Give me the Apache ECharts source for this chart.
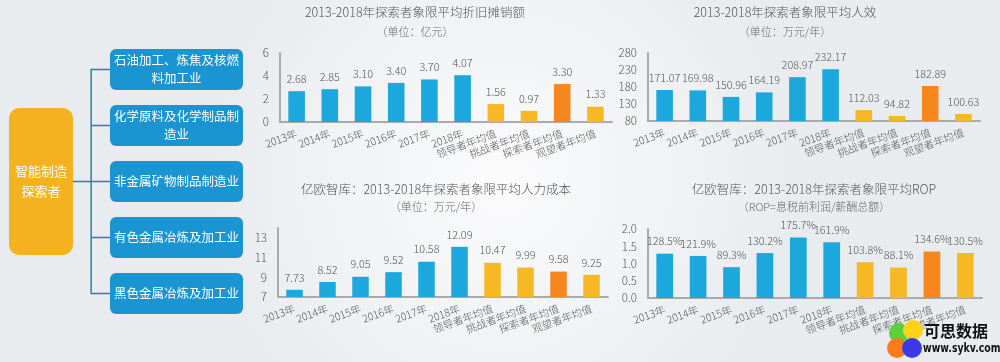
<!DOCTYPE html>
<html>
<head>
<meta charset="utf-8">
<script src="https://cdn.jsdelivr.net/npm/echarts@6/dist/echarts.min.js"></script>
<style>
html,body{margin:0;padding:0;}
#main{width:1000px;height:362px;}
</style>
</head>
<body>
<div id="main"></div>
<script>
// ---- data ----
const categories = ['2013年','2014年','2015年','2016年','2017年','2018年','领导者年均值','挑战者年均值','探索者年均值','观望者年均值'];
const deprValues = [2.68, 2.85, 3.10, 3.40, 3.70, 4.07, 1.56, 0.97, 3.30, 1.33];
const effValues = [171.07, 169.98, 150.96, 164.19, 208.97, 232.17, 112.03, 94.82, 182.89, 100.63];
const costValues = [7.73, 8.52, 9.05, 9.52, 10.58, 12.09, 10.47, 9.99, 9.58, 9.25];
const ropValues = [1.285, 1.219, 0.893, 1.302, 1.757, 1.619, 1.038, 0.881, 1.346, 1.305];
const rootName = '智能制造\n探索者';
const industryNames = ['石油加工、炼焦及核燃\n料加工业', '化学原料及化学制品制\n造业', '非金属矿物制品制造业', '有色金属冶炼及加工业', '黑色金属冶炼及加工业'];
const chartTitles = ['2013-2018年探索者象限平均折旧摊销额', '2013-2018年探索者象限平均人效', '亿欧智库：2013-2018年探索者象限平均人力成本', '亿欧智库：2013-2018年探索者象限平均ROP'];
const chartSubtitles = ['（单位：亿元）', '（单位：万元/年）', '（单位：万元/年）', '（ROP=息税前利润/薪酬总额）'];

// ---- styles ----
const FONT = '"Noto Sans CJK SC", "Noto Sans", sans-serif';
const BLUE = '#1ca8dc', YELLOW = '#f7b825', ORANGE = '#f6871f';
function barColor(p) {
  if (p.dataIndex < 6) return BLUE;
  if (p.dataIndex === 8) return ORANGE;
  return YELLOW;
}
const axisLineStyle = { show: true, lineStyle: { color: '#aaaaaa', width: 2 } };

const grids = [
  { left: 280, right: 388, top: 53, bottom: 240 },
  { left: 648, right: 20, top: 53, bottom: 241 },
  { left: 278, right: 392, top: 228, bottom: 65 },
  { left: 648, right: 18, top: 229, bottom: 64 }
];
const yRanges = [
  { min: 0, max: 6, interval: 2 },
  { min: 80, max: 280, interval: 50 },
  { min: 7, max: 14, interval: 2 },
  { min: 0, max: 2, interval: 0.5 }
];
const titlePos = [
  { x: 410, y1: 1, y2: 21 },
  { x: 780, y1: 1, y2: 21 },
  { x: 431, y1: 178, y2: 196 },
  { x: 809, y1: 178, y2: 196 }
];
const seriesValues = [deprValues, effValues, costValues, ropValues];
const labelFormatters = [
  v => v.toFixed(2),
  v => v.toFixed(2),
  v => v.toFixed(2),
  v => (v * 100).toFixed(1) + '%'
];
const yLabelFormatters = [
  v => String(v),
  v => String(v),
  v => String(v),
  v => v.toFixed(1)
];

const titles = [];
titlePos.forEach((p, i) => {
  titles.push({ text: chartTitles[i], left: p.x, top: p.y1, textAlign: 'center',
    textStyle: { fontFamily: FONT, fontSize: 12.5, fontWeight: 300, color: '#555' } });
  titles.push({ text: chartSubtitles[i], left: p.x, top: p.y2, textAlign: 'center',
    textStyle: { fontFamily: FONT, fontSize: 11, fontWeight: 300, color: '#666' } });
});

const xAxes = grids.map((g, i) => ({
  type: 'category', gridIndex: i, data: categories,
  axisLine: axisLineStyle, axisTick: { show: false },
  axisLabel: { interval: 0, rotate: 20, margin: 11, color: '#555', fontSize: 10.5, fontWeight: 300, fontFamily: FONT }
}));
const yAxes = grids.map((g, i) => ({
  type: 'value', gridIndex: i, min: yRanges[i].min, max: yRanges[i].max, interval: yRanges[i].interval,
  axisLine: axisLineStyle, axisTick: { show: false }, splitLine: { show: false },
  axisLabel: { margin: 11, color: '#555', fontSize: 11.5, fontWeight: 300, fontFamily: FONT, showMaxLabel: i !== 2,
    formatter: yLabelFormatters[i] }
}));
const barSeries = seriesValues.map((vals, i) => ({
  type: 'bar', xAxisIndex: i, yAxisIndex: i, data: vals, barWidth: '50%',
  itemStyle: { color: barColor },
  label: { show: true, position: 'top', distance: 7, color: '#555', fontSize: 10.8, fontWeight: 300, fontFamily: FONT,
    formatter: p => labelFormatters[i](p.value) }
}));

const leafPath = 'path://M6,0 H127 A6,6 0 0 1 133,6 V35 A6,6 0 0 1 127,41 H6 A6,6 0 0 1 0,35 V6 A6,6 0 0 1 6,0 Z';
const rootPath = 'path://M10,0 H54 A10,10 0 0 1 64,10 V137 A10,10 0 0 1 54,147 H10 A10,10 0 0 1 0,137 V10 A10,10 0 0 1 10,0 Z';

const treeData = {
  name: rootName,
  symbol: rootPath,
  symbolSize: [64, 147],
  itemStyle: { color: '#f5b220' },
  label: { fontSize: 13, lineHeight: 20 },
  children: industryNames.map(n => ({ name: n, symbol: leafPath, symbolSize: [133, 41], itemStyle: { color: '#1b95d2' } }))
};

const treeSeries = {
  type: 'tree',
  data: [treeData],
  orient: 'LR',
  left: 41, top: 41.5, right: 823.5, bottom: 40.5,
  symbolKeepAspect: false,
  edgeShape: 'polyline',
  edgeForkPosition: '37%',
  expandAndCollapse: false,
  initialTreeDepth: -1,
  roam: false,
  silent: true,
  lineStyle: { color: '#2e7ea8', width: 1.5, curveness: 0 },
  itemStyle: { borderWidth: 0 },
  label: { position: 'inside', color: '#fff', fontSize: 12.5, lineHeight: 18, fontFamily: FONT, align: 'center', verticalAlign: 'middle' },
  leaves: { label: { position: 'inside', color: '#fff', fontSize: 12.5, lineHeight: 18, fontFamily: FONT, align: 'center', verticalAlign: 'middle' } },
  emphasis: { disabled: true }
};

const chart = echarts.init(document.getElementById('main'), null, { renderer: 'canvas' });
chart.setOption({
  animation: false,
  backgroundColor: { type: 'radial', x: 0.5, y: 0.5, r: 0.8,
    colorStops: [{ offset: 0, color: '#fbfbfc' }, { offset: 1, color: '#e9ecef' }] },
  title: titles,
  grid: grids,
  xAxis: xAxes,
  yAxis: yAxes,
  series: [treeSeries].concat(barSeries),
  graphic: [
    { type: 'circle', shape: { cx: 899, cy: 333, r: 10 }, style: { fill: '#5bd03a' }, z: 100 },
    { type: 'circle', shape: { cx: 913, cy: 330, r: 10 }, style: { fill: '#ffd21a' }, z: 100 },
    { type: 'circle', shape: { cx: 897, cy: 348, r: 10 }, style: { fill: '#ff7a1a' }, z: 100 },
    { type: 'circle', shape: { cx: 912, cy: 348, r: 10 }, style: { fill: '#3a3ae8' }, z: 100 },
    { type: 'text', x: 924, y: 323, z: 101, style: { text: '可思数据', fill: '#111', font: 'bold 16px ' + FONT } },
    { type: 'text', x: 923, y: 343, scaleX: 0.78, z: 101, style: { text: 'www.sykv.com', fill: '#111', font: 'bold 12px "DejaVu Sans", sans-serif' } }
  ]
});
</script>
</body>
</html>
